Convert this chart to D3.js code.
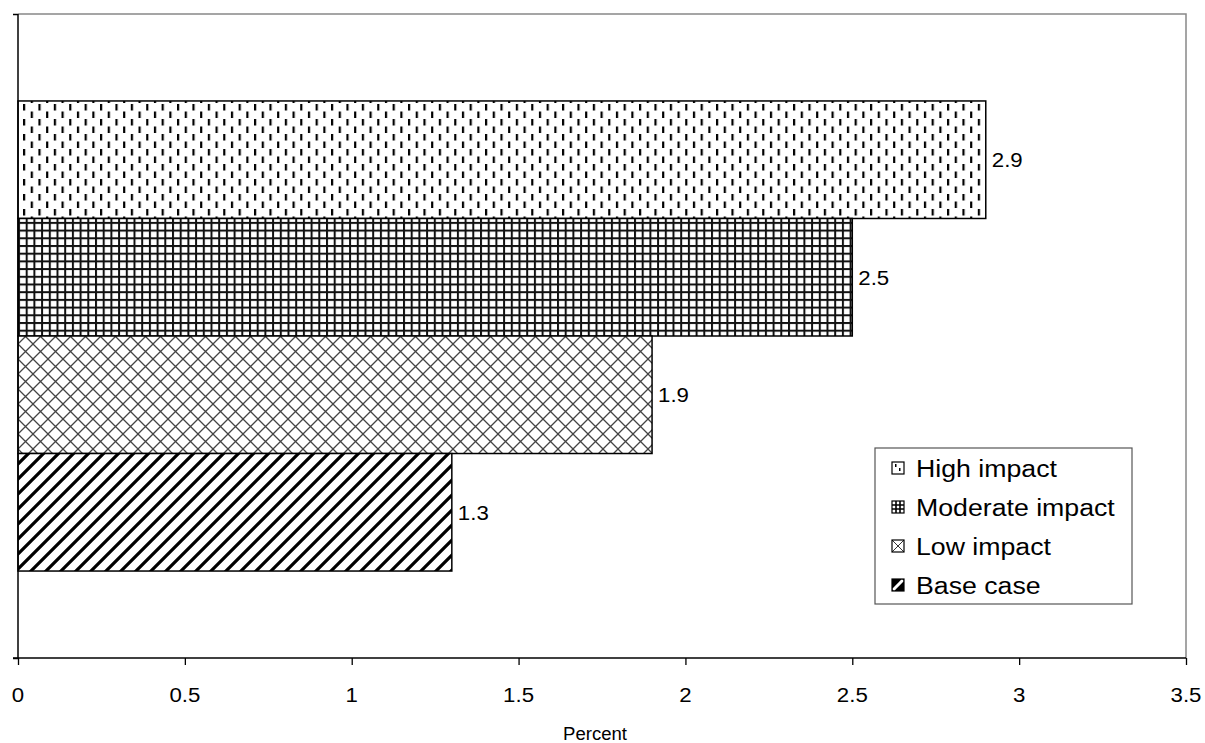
<!DOCTYPE html>
<html><head><meta charset="utf-8">
<script src="https://cdn.jsdelivr.net/npm/d3@7"></script>
<style>body{margin:0;background:#fff;} text{font-family:"Liberation Sans",Arial,sans-serif;fill:#000;}</style>
</head><body><svg id="c" width="1205" height="743"></svg>
<script>
const series = ["High impact","Moderate impact","Low impact","Base case"];
const values = [2.9, 2.5, 1.9, 1.3];
const xTicks = [0,0.5,1,1.5,2,2.5,3,3.5];
const xTitle = "Percent";
const patternIds = ["pHigh","pMod","pLow","pBase"];

const svg = d3.select("#c");
const L=18, R=1186, T=14, B=658;
const x = d3.scaleLinear().domain([0,3.5]).range([L,R]);
const y = d3.scaleBand().domain(series).range([T,B]).paddingInner(0).paddingOuter(0.74);

const defs = svg.append("defs");
// High impact: staggered vertical dashes
let p = defs.append("pattern").attr("id","pHigh").attr("patternUnits","userSpaceOnUse").attr("width",15.4).attr("height",15).attr("x",L+5).attr("y",T+0);
p.append("rect").attr("width",15.4).attr("height",15).attr("fill","#fff");
p.append("rect").attr("x",0).attr("y",0).attr("width",2.2).attr("height",6.5).attr("fill","#000");
p.append("rect").attr("x",7.7).attr("y",7.5).attr("width",2.2).attr("height",6.5).attr("fill","#000");
// Moderate: grid
p = defs.append("pattern").attr("id","pMod").attr("patternUnits","userSpaceOnUse").attr("width",7.7).attr("height",7.7).attr("x",L).attr("y",T);
p.append("rect").attr("width",7.7).attr("height",7.7).attr("fill","#fff");
p.append("rect").attr("x",0).attr("y",0).attr("width",2).attr("height",7.7).attr("fill","#111");
p.append("rect").attr("x",0).attr("y",0).attr("width",7.7).attr("height",2).attr("fill","#111");
// Low: diagonal crosshatch
p = defs.append("pattern").attr("id","pLow").attr("patternUnits","userSpaceOnUse").attr("width",15).attr("height",15).attr("x",L).attr("y",T);
p.append("rect").attr("width",15).attr("height",15).attr("fill","#fff");
p.append("path").attr("d","M0,0L15,15M15,0L0,15M-1,14L1,16M14,-1L16,1").attr("stroke","#444").attr("stroke-width",1.3).attr("fill","none");
// Base: diagonal stripes up-right
p = defs.append("pattern").attr("id","pBase").attr("patternUnits","userSpaceOnUse").attr("width",15).attr("height",15).attr("x",L).attr("y",T);
p.append("rect").attr("width",15).attr("height",15).attr("fill","#fff");
p.append("path").attr("d","M0,15L15,0M-4,4L4,-4M11,19L19,11").attr("stroke","#000").attr("stroke-width",3.2).attr("fill","none");

// swatch patterns
const swIds = ["sHigh","sMod","sLow","sBase"];
p = defs.append("pattern").attr("id","sHigh").attr("patternUnits","objectBoundingBox").attr("width",1).attr("height",1);
p.append("rect").attr("width",12).attr("height",12).attr("fill","#fff");
p.append("rect").attr("x",3).attr("y",2).attr("width",1.5).attr("height",3).attr("fill","#000");
p.append("rect").attr("x",7).attr("y",6).attr("width",1.5).attr("height",3).attr("fill","#000");
p = defs.append("pattern").attr("id","sMod").attr("patternUnits","objectBoundingBox").attr("width",1).attr("height",1);
p.append("rect").attr("width",12).attr("height",12).attr("fill","#fff");
p.append("path").attr("d","M4,0V12M8,0V12M0,4H12M0,8H12").attr("stroke","#000").attr("stroke-width",1.6);
p = defs.append("pattern").attr("id","sLow").attr("patternUnits","objectBoundingBox").attr("width",1).attr("height",1);
p.append("rect").attr("width",12).attr("height",12).attr("fill","#fff");
p.append("path").attr("d","M0,0L12,12M12,0L0,12").attr("stroke","#333").attr("stroke-width",1);
p = defs.append("pattern").attr("id","sBase").attr("patternUnits","objectBoundingBox").attr("width",1).attr("height",1);
p.append("rect").attr("width",12).attr("height",12).attr("fill","#000");
p.append("path").attr("d","M1,11L11,1").attr("stroke","#fff").attr("stroke-width",3);

// plot border (top, right) in gray
svg.append("path").attr("d",`M${L},${T}H${R}V${B}`).attr("fill","none").attr("stroke","#888").attr("stroke-width",1.5);

// bars
svg.append("g").selectAll("rect").data(series).join("rect")
  .attr("x",x(0)).attr("y",d=>y(d)).attr("width",(d,i)=>x(values[i])-x(0)).attr("height",y.bandwidth())
  .attr("fill",(d,i)=>`url(#${patternIds[i]})`).attr("stroke","#000").attr("stroke-width",1.5);

function stext(g, xx, yy, str, size, sx, anchor){
  const gg = g.append("g").attr("transform",`translate(${xx},${yy}) scale(${sx},1)`);
  return gg.append("text").attr("text-anchor",anchor).attr("font-size",size).text(str);
}
// value labels
const vl = svg.append("g");
series.forEach((s,i)=>{ stext(vl, x(values[i])+6, y(s)+y.bandwidth()/2+7.5, values[i], 21, 1.06, "start"); });

// x axis
const xa = svg.append("g").attr("transform",`translate(0,${B})`)
  .call(d3.axisBottom(x).tickValues(xTicks).tickSize(7).tickFormat(""));
xa.select(".domain").attr("stroke","#000").attr("stroke-width",1.5).attr("d",`M${L-5},0H${R}`);
xa.selectAll(".tick line").attr("stroke","#000").attr("stroke-width",1.3);
const tl = svg.append("g");
xTicks.forEach(t=>stext(tl, x(t), 702, String(t), 21, 1.06, "middle"));
stext(tl, (L+R)/2-7, 740, xTitle, 18, 1.03, "middle");

// y axis
const ya = svg.append("g").attr("transform",`translate(${L},0)`)
  .call(d3.axisLeft(d3.scaleLinear().domain([0,1]).range([B,T])).tickValues([0,1]).tickSize(5).tickFormat(""));
ya.select(".domain").attr("stroke","#000").attr("stroke-width",1.5).attr("d",`M0,${T}V${B}`);
ya.selectAll(".tick line").attr("stroke","#000").attr("stroke-width",1.5);

// legend
const lg = svg.append("g");
lg.append("rect").attr("x",875).attr("y",448).attr("width",257).attr("height",156).attr("fill","#fff").attr("stroke","#555").attr("stroke-width",1.2);
series.forEach((s,i)=>{
  const cy = 468 + i*39;
  lg.append("rect").attr("x",892).attr("y",cy-6).attr("width",12).attr("height",12).attr("fill",`url(#${swIds[i]})`).attr("stroke","#000").attr("stroke-width",1.2);
  stext(lg, 916, cy+9, s, 24.5, 1.09, "start");
});
</script></body></html>
